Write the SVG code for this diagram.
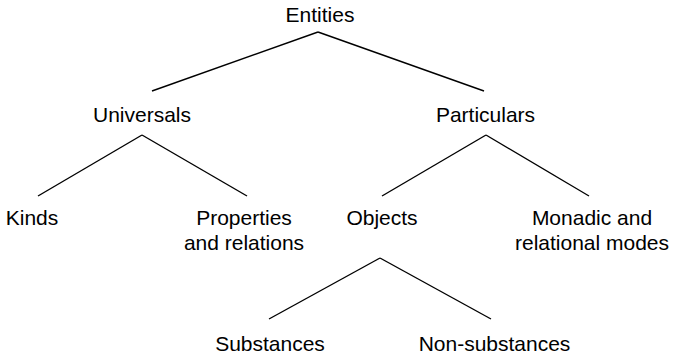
<svg xmlns="http://www.w3.org/2000/svg" width="673" height="357" viewBox="0 0 673 357">
<style>
text{font-family:"Liberation Sans",Arial,sans-serif;font-size:21px;fill:#000;text-anchor:middle}
.c line{stroke:#000;stroke-width:1.4;fill:none}
</style>
<rect width="673" height="357" fill="#fff"/>
<g class="c" id="connectors">
<line x1="318" y1="32" x2="152" y2="91"/>
<line x1="318" y1="32" x2="484" y2="91"/>
<line x1="142" y1="135" x2="38" y2="196"/>
<line x1="142" y1="135" x2="247" y2="196"/>
<line x1="486" y1="135" x2="382" y2="196"/>
<line x1="486" y1="135" x2="589" y2="196"/>
<line x1="380" y1="258" x2="269" y2="319"/>
<line x1="380" y1="258" x2="491" y2="319"/>
</g>
<g id="entities"><text x="320" y="22">Entities</text></g>
<g id="universals"><text x="142" y="122">Universals</text></g>
<g id="particulars"><text x="485.5" y="122">Particulars</text></g>
<g id="kinds"><text x="32" y="225">Kinds</text></g>
<g id="properties"><text x="244" y="225">Properties</text><text x="244" y="250">and relations</text></g>
<g id="objects"><text x="382" y="225">Objects</text></g>
<g id="modes"><text x="592" y="225">Monadic and</text><text x="592" y="250">relational modes</text></g>
<g id="substances"><text x="270" y="351">Substances</text></g>
<g id="nonsubstances"><text x="494.5" y="351">Non-substances</text></g>
</svg>
